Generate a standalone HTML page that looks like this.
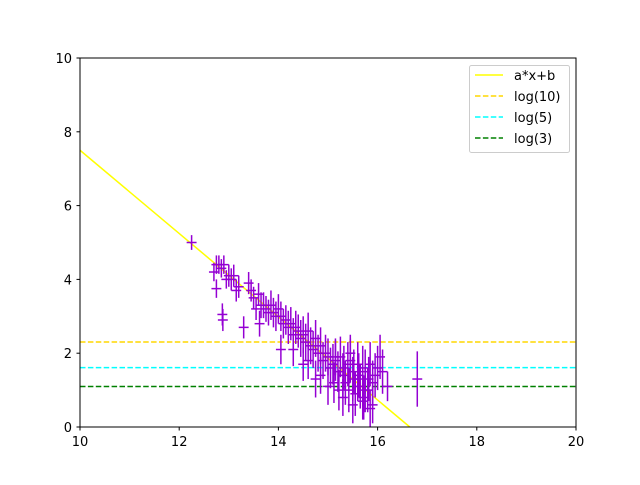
<!DOCTYPE html>
<html><head><meta charset="utf-8"><style>
body{margin:0;background:#fff}
svg text{font-family:"DejaVu Sans","Liberation Sans",sans-serif;font-size:13px;fill:#000}
</style></head><body>
<svg id="chart" width="640" height="480" xmlns="http://www.w3.org/2000/svg">
<rect width="640" height="480" fill="#fff"/>
<g id="lines"></g>
<g id="points"></g>
<rect x="80" y="58" width="496" height="369" fill="none" stroke="#000" stroke-width="1"/>
<g id="axes"></g>
<g>
<rect x="469.5" y="65.5" width="100" height="87" rx="2" fill="#fff" fill-opacity="0.8" stroke="#ccc"/>
<g><line x1="475" y1="75" x2="503" y2="75" stroke="#ffff00" stroke-width="1.5"/><text x="514" y="80">a*x+b</text></g>
<g><line x1="475" y1="96" x2="503" y2="96" stroke="#ffd700" stroke-width="1.5" stroke-dasharray="5.5,2.4"/><text x="514" y="101">log(10)</text></g>
<g><line x1="475" y1="117" x2="503" y2="117" stroke="#00ffff" stroke-width="1.5" stroke-dasharray="5.5,2.4"/><text x="514" y="122">log(5)</text></g>
<g><line x1="475" y1="138" x2="503" y2="138" stroke="#008000" stroke-width="1.5" stroke-dasharray="5.5,2.4"/><text x="514" y="143">log(3)</text></g>
</g>
</svg>
<script>
const xTicks=[10,12,14,16,18,20];
const yTicks=[0,2,4,6,8,10];
const fitA=-1.128, fitB=18.78;
const hLevels=[2.303,1.609,1.099];
const hColors=['#ffd700','#00ffff','#008000'];
const hNames=['log10-line','log5-line','log3-line'];
const px=[12.25,12.7,12.75,12.8,12.85,12.9,12.95,13.0,13.05,13.1,13.15,13.2,12.75,12.87,12.88,13.3,13.4,13.45,13.5,13.55,13.6,13.62,13.65,13.7,13.75,13.8,13.85,13.9,13.95,14.0,14.05,14.1,14.15,14.2,14.25,14.3,14.35,14.4,14.45,14.5,14.55,14.6,14.65,14.7,14.75,14.8,14.85,14.9,14.95,15.0,15.05,15.1,15.12,15.15,15.2,15.22,15.25,15.3,15.32,15.35,15.4,15.42,15.45,15.5,15.52,15.55,15.6,15.62,15.65,15.7,15.72,15.75,15.8,15.82,15.85,15.9,15.95,16.0,16.05,16.1,16.2,14.05,14.5,14.3,15.0,15.3,15.5,15.7,15.9,16.8,15.15,15.45,15.6,15.75,15.85,14.85,14.6,14.75];
const py=[5.0,4.2,4.4,4.4,4.3,4.4,4.0,4.1,4.0,4.1,3.7,3.8,3.75,3.05,2.9,2.7,3.9,3.7,3.5,3.2,3.6,2.8,3.3,3.3,3.2,3.1,3.3,3.1,3.0,3.2,3.0,2.8,2.9,2.7,2.8,2.5,2.7,2.6,2.4,2.5,2.3,2.6,2.2,2.1,2.4,2.0,2.2,1.8,2.0,1.9,1.6,1.7,1.2,1.8,1.5,1.0,1.9,1.4,1.6,1.2,1.7,1.0,1.8,1.3,1.5,0.9,1.7,1.4,1.1,1.6,0.8,1.5,1.0,1.3,1.7,1.2,1.4,1.6,1.9,1.5,1.1,2.1,1.7,2.1,1.1,0.8,0.6,0.7,0.6,1.3,1.9,2.0,1.3,1.0,0.5,1.4,1.8,1.3];
const pe=[0.2,0.25,0.25,0.25,0.25,0.25,0.25,0.3,0.3,0.3,0.3,0.3,0.25,0.3,0.3,0.3,0.3,0.3,0.3,0.3,0.3,0.35,0.35,0.35,0.35,0.35,0.4,0.4,0.4,0.4,0.4,0.4,0.4,0.45,0.45,0.45,0.45,0.45,0.5,0.5,0.5,0.5,0.5,0.5,0.5,0.5,0.5,0.5,0.5,0.5,0.55,0.55,0.55,0.55,0.55,0.55,0.55,0.6,0.6,0.6,0.6,0.6,0.6,0.6,0.6,0.6,0.6,0.6,0.6,0.6,0.6,0.6,0.6,0.6,0.6,0.6,0.6,0.6,0.6,0.6,0.4,0.4,0.45,0.45,0.5,0.5,0.5,0.5,0.5,0.75,0.5,0.5,0.6,0.6,0.5,0.5,0.5,0.5];
const X=v=>80+(v-10)*49.6, Y=v=>427-v*36.9;
const NS='http://www.w3.org/2000/svg';
function mk(t,a,p){const e=document.createElementNS(NS,t);for(const k in a)e.setAttribute(k,a[k]);p.appendChild(e);return e;}
const L=document.getElementById('lines'),P=document.getElementById('points'),A=document.getElementById('axes');
hLevels.forEach((h,i)=>{const e=mk('line',{x1:X(10),x2:X(20),y1:Y(h),y2:Y(h),stroke:hColors[i],'stroke-width':1.5,'stroke-dasharray':'5.5,2.4'},L);

});
const x0=-fitB/fitA;
const fit=mk('line',{x1:X(10),y1:Y(fitA*10+fitB),x2:X(x0),y2:Y(0),stroke:'#ffff00','stroke-width':1.5},L);


px.forEach((x,i)=>{const g=mk('g',{stroke:'#9400d3','stroke-width':1.5},P);


mk('line',{x1:X(x),x2:X(x),y1:Y(py[i]-pe[i]),y2:Y(py[i]+pe[i])},g);
mk('line',{x1:X(x-0.1),x2:X(x+0.1),y1:Y(py[i]),y2:Y(py[i])},g);});
xTicks.forEach(t=>{mk('line',{x1:X(t),x2:X(t),y1:427,y2:430.5,stroke:'#000'},A);
const tx=mk('text',{x:X(t),y:446,'text-anchor':'middle'},A);tx.textContent=t;

});
yTicks.forEach(t=>{mk('line',{x1:76.5,x2:80,y1:Y(t),y2:Y(t),stroke:'#000'},A);
const tx=mk('text',{x:72,y:Y(t)+5,'text-anchor':'end'},A);tx.textContent=t;

});
</script>
</body></html>
